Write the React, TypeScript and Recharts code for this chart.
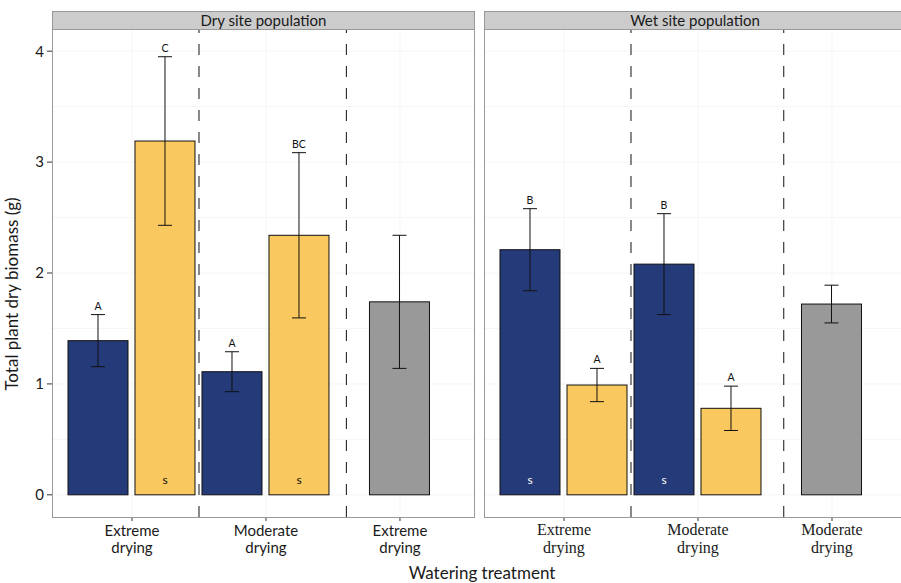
import React from "react";
import {
  ComposedChart,
  Bar,
  XAxis,
  YAxis,
  CartesianGrid,
  ErrorBar,
  ReferenceLine,
} from "recharts";

// ---------- data ----------
const panelTitles = ["Dry site population", "Wet site population"];
const treatmentLabels = ["Extreme drying", "Moderate drying"];
const dryControlLabel = "Extreme drying";
const wetControlLabel = "Moderate drying";

const dryNavyMeans = [1.39, 1.11];
const dryNavyErrors = [0.235, 0.18];
const dryNavyLetters = ["A", "A"];
const dryNavySig = [false, false];
const dryYellowMeans = [3.19, 2.34];
const dryYellowErrors = [0.76, 0.745];
const dryYellowLetters = ["C", "BC"];
const dryYellowSig = [true, true];
const dryControlMean = 1.74;
const dryControlError = 0.6;

const wetNavyMeans = [2.21, 2.08];
const wetNavyErrors = [0.37, 0.455];
const wetNavyLetters = ["B", "B"];
const wetNavySig = [true, true];
const wetYellowMeans = [0.99, 0.78];
const wetYellowErrors = [0.15, 0.2];
const wetYellowLetters = ["A", "A"];
const wetYellowSig = [false, false];
const wetControlMean = 1.72;
const wetControlError = 0.17;

const yTicks = [0, 1, 2, 3, 4];
const yGrid = [0, 0.5, 1, 1.5, 2, 2.5, 3, 3.5, 4];
const dryDividers = [1.5, 2.6];
const wetDividers = [1.5, 2.64];

// ---------- styling ----------
const NAVY = "#253a78";
const YELLOW = "#f9c95f";
const GRAY = "#999999";
const SANS = "Lato, 'Open Sans', sans-serif";
const SERIF = "'Liberation Serif', 'DejaVu Serif', serif";
const DODGE = 0.25;

type Row = {
  x: number;
  value: number;
  err: number;
  fill: string;
  letter: string;
  sig: boolean;
  light: boolean;
};

function buildRows(
  navy: number[],
  navyErr: number[],
  navyLetters: string[],
  navySig: boolean[],
  yellow: number[],
  yellowErr: number[],
  yellowLetters: string[],
  yellowSig: boolean[],
  control: number,
  controlErr: number
): Row[] {
  const rows: Row[] = [];
  navy.forEach((v, i) => {
    rows.push({
      x: i + 1 - DODGE,
      value: v,
      err: navyErr[i],
      fill: NAVY,
      letter: navyLetters[i],
      sig: navySig[i],
      light: true,
    });
    rows.push({
      x: i + 1 + DODGE,
      value: yellow[i],
      err: yellowErr[i],
      fill: YELLOW,
      letter: yellowLetters[i],
      sig: yellowSig[i],
      light: false,
    });
  });
  rows.push({
    x: navy.length + 1,
    value: control,
    err: controlErr,
    fill: GRAY,
    letter: "",
    sig: false,
    light: false,
  });
  return rows;
}

const dryRows = buildRows(
  dryNavyMeans,
  dryNavyErrors,
  dryNavyLetters,
  dryNavySig,
  dryYellowMeans,
  dryYellowErrors,
  dryYellowLetters,
  dryYellowSig,
  dryControlMean,
  dryControlError
);
const wetRows = buildRows(
  wetNavyMeans,
  wetNavyErrors,
  wetNavyLetters,
  wetNavySig,
  wetYellowMeans,
  wetYellowErrors,
  wetYellowLetters,
  wetYellowSig,
  wetControlMean,
  wetControlError
);

const dryCategories = [...treatmentLabels, dryControlLabel];
const wetCategories = [...treatmentLabels, wetControlLabel];

const BarShape = (props: any) => {
  const { x, y, width, height, payload } = props;
  const ppu = payload.value ? height / payload.value : 0;
  const errTop = y - payload.err * ppu;
  const cx = x + width / 2;
  return (
    <g>
      <rect
        x={x}
        y={y}
        width={width}
        height={height}
        fill={payload.fill}
        stroke="#111"
        strokeWidth={1}
      />
      {payload.letter ? (
        <text
          x={cx}
          y={errTop - 5}
          textAnchor="middle"
          fontSize={10.5}
          fontFamily={SANS}
          fill="#111111"
        >
          {payload.letter}
        </text>
      ) : null}
      {payload.sig ? (
        <text
          x={cx}
          y={y + height - 11}
          textAnchor="middle"
          fontSize={12}
          fontFamily={SANS}
          fill={payload.light ? "#ffffff" : "#111111"}
        >
          s
        </text>
      ) : null}
    </g>
  );
};

const makeTick = (labels: string[], font: string, size: number, l1: number, l2: number) => (props: any) => {
  const { x, y, payload } = props;
  const idx = Math.round(payload.value) - 1;
  const label = labels[idx] || "";
  const words = label.split(" ");
  return (
    <g>
      <text x={x} y={y + l1} textAnchor="middle" fontFamily={font} fontSize={size} fill="#1a1a1a">
        {words[0]}
      </text>
      <text x={x} y={y + l2} textAnchor="middle" fontFamily={font} fontSize={size} fill="#1a1a1a">
        {words.slice(1).join(" ")}
      </text>
    </g>
  );
};

type PanelProps = {
  rows: Row[];
  categories: string[];
  dividers: number[];
  domain: [number, number];
  showY: boolean;
  width: number;
  left: number;
  font: string;
  fontSize: number;
  l1: number;
  l2: number;
};

const Panel = ({ rows, categories, dividers, domain, showY, width, left, font, fontSize, l1, l2 }: PanelProps) => (
  <div style={{ position: "absolute", left, top: 29 }}>
    <ComposedChart
      width={width}
      height={548}
      data={rows}
      margin={{ top: 0, right: showY ? 5 : 0, bottom: 0, left: 0 }}
    >
      <CartesianGrid
        stroke="#f6f6f6"
        horizontalValues={yGrid}
        verticalValues={[1, 2, 3]}
      />
      <XAxis
        type="number"
        dataKey="x"
        domain={domain}
        ticks={[1, 2, 3]}
        allowDataOverflow
        axisLine={false}
        tickSize={4}
        tickMargin={2}
        tickLine={{ stroke: "#333" }}
        height={60}
        tick={makeTick(categories, font, fontSize, l1, l2)}
        interval={0}
      />
      <YAxis
        type="number"
        domain={[-0.2, 4.2]}
        ticks={yTicks}
        allowDataOverflow
        hide={!showY}
        width={showY ? 52 : 0}
        axisLine={false}
        tickSize={5}
        tickMargin={3}
        tickLine={{ stroke: "#333" }}
        tick={{ fontFamily: SANS, fontSize: 15, fill: "#1a1a1a" }}
      />
      {dividers.map((d) => (
        <ReferenceLine
          key={d}
          x={d}
          stroke="#111"
          strokeWidth={1}
          strokeDasharray="11 11"
        />
      ))}
      <Bar dataKey="value" barSize={60} shape={BarShape} isAnimationActive={false}>
        <ErrorBar dataKey="err" width={7} stroke="#111" strokeWidth={1} direction="y" />
      </Bar>
    </ComposedChart>
  </div>
);

const Strip = ({ left, width, title }: { left: number; width: number; title: string }) => (
  <div
    style={{
      position: "absolute",
      left,
      top: 11,
      width,
      height: 19,
      boxSizing: "border-box",
      background: "#cccccc",
      border: "1px solid #999",
      fontFamily: SANS,
      fontSize: 15,
      lineHeight: "17px",
      textAlign: "center",
      color: "#1a1a1a",
    }}
  >
    {title}
  </div>
);

const Border = ({ left, width }: { left: number; width: number }) => (
  <div
    style={{
      position: "absolute",
      left,
      top: 29,
      width,
      height: 489,
      boxSizing: "border-box",
      border: "1px solid #999",
      pointerEvents: "none",
    }}
  />
);

export default function App() {
  return (
    <div
      style={{
        position: "absolute",
        left: 0,
        top: 0,
        width: 901,
        height: 583,
        background: "#fff",
        overflow: "hidden",
      }}
    >
      <Panel
        rows={dryRows}
        categories={dryCategories}
        dividers={dryDividers}
        domain={[0.403, 3.56]}
        showY
        width={480}
        left={0}
        font={SANS}
        fontSize={15}
        l1={13}
        l2={30}
      />
      <Panel
        rows={wetRows}
        categories={wetCategories}
        dividers={wetDividers}
        domain={[0.403, 3.515]}
        showY={false}
        width={417}
        left={484}
        font={SERIF}
        fontSize={16}
        l1={12}
        l2={30}
      />
      <Border left={52} width={423} />
      <Border left={484} width={422} />
      <Strip left={52} width={423} title={panelTitles[0]} />
      <Strip left={484} width={422} title={panelTitles[1]} />
      <svg
        width={901}
        height={583}
        style={{ position: "absolute", left: 0, top: 0, pointerEvents: "none" }}
      >
        <text x={482} y={579} textAnchor="middle" fontFamily={SANS} fontSize={17} fill="#1a1a1a">
          Watering treatment
        </text>
        <text
          x={18}
          y={294}
          transform="rotate(-90, 18, 294)"
          textAnchor="middle"
          fontFamily={SANS}
          fontSize={17}
          fill="#1a1a1a"
        >
          Total plant dry biomass (g)
        </text>
      </svg>
    </div>
  );
}
